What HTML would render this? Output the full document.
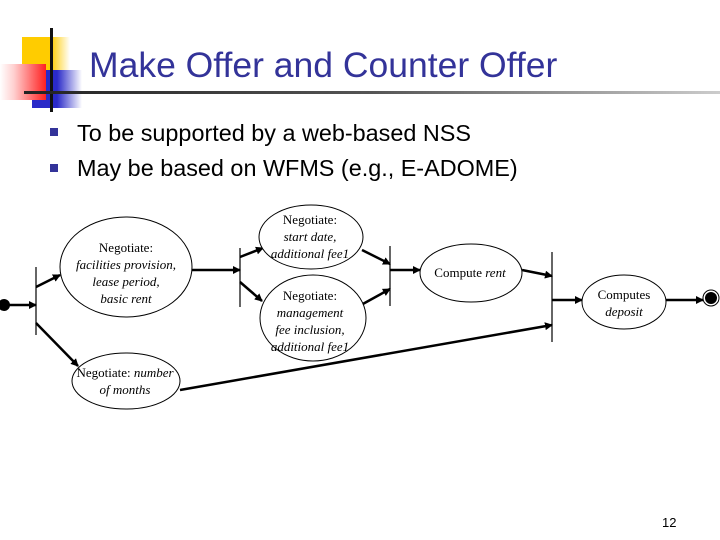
<!DOCTYPE html>
<html><head><style>
body{margin:0;width:720px;height:540px;background:#fff;overflow:hidden;position:relative;font-family:"Liberation Sans",sans-serif}
.a{position:absolute}
</style></head><body>
<div class="a" style="left:22px;top:37px;width:48px;height:36px;background:linear-gradient(90deg,#ffcc00 60%,#fff)"></div>
<div class="a" style="left:32px;top:70px;width:50px;height:38px;background:linear-gradient(90deg,#2a2ac8 50%,#fff)"></div>
<div class="a" style="left:0;top:64px;width:46px;height:36px;background:linear-gradient(270deg,#ff2020,#ffd0d0 70%,#fff)"></div>
<div class="a" style="left:50px;top:28px;width:3px;height:84px;background:#111"></div>
<div class="a" style="left:24px;top:91px;width:696px;height:3px;background:linear-gradient(90deg,#222,#555 50%,#ccc)"></div>
<div class="a" style="left:89px;top:45px;font-size:35.5px;color:#333399;white-space:nowrap">Make Offer and Counter Offer</div>
<div class="a" style="left:50px;top:128px;width:8px;height:8px;background:#333399"></div>
<div class="a" style="left:50px;top:164px;width:8px;height:8px;background:#333399"></div>
<div class="a" style="left:77px;top:116px;font-size:23.4px;line-height:35px;white-space:nowrap">To be supported by a web-based NSS<br>May be based on WFMS (e.g., E-ADOME)</div>
<svg class="a" style="left:0;top:0" width="720" height="540" font-family="Liberation Serif,serif" font-size="13">
<defs><marker id="m" markerWidth="8" markerHeight="8" refX="7" refY="4" orient="auto" markerUnits="userSpaceOnUse"><path d="M0,0L8,4L0,8z"/></marker></defs>
<g stroke="#000" stroke-width="2.5" fill="none" marker-end="url(#m)">
<line x1="8" y1="305" x2="36" y2="305"/>
<line x1="36" y1="287" x2="60" y2="275"/>
<line x1="36" y1="323" x2="78" y2="366"/>
<line x1="192" y1="270" x2="240" y2="270"/>
<line x1="240" y1="257" x2="263" y2="248"/>
<line x1="240" y1="282" x2="262" y2="301"/>
<line x1="362" y1="250" x2="390" y2="264"/>
<line x1="361" y1="305" x2="390" y2="289"/>
<line x1="390" y1="270" x2="420" y2="270"/>
<line x1="522" y1="270" x2="552" y2="276"/>
<line x1="180" y1="390" x2="552" y2="325"/>
<line x1="552" y1="300" x2="582" y2="300"/>
<line x1="666" y1="300" x2="703" y2="300"/>
</g>
<g stroke="#000" stroke-width="1.2">
<line x1="36" y1="267" x2="36" y2="335"/>
<line x1="240" y1="248" x2="240" y2="307"/>
<line x1="390" y1="246" x2="390" y2="306"/>
<line x1="552" y1="252" x2="552" y2="342"/>
</g>
<circle cx="4" cy="305" r="6"/>
<circle cx="711" cy="298" r="8" fill="#fff" stroke="#000"/><circle cx="711" cy="298" r="6"/>
<g fill="#fff" stroke="#000" stroke-width="1">
<ellipse cx="126" cy="267" rx="66" ry="50"/>
<ellipse cx="311" cy="237" rx="52" ry="32"/>
<ellipse cx="313" cy="318" rx="53" ry="43"/>
<ellipse cx="126" cy="381" rx="54" ry="28"/>
<ellipse cx="471" cy="273" rx="51" ry="29"/>
<ellipse cx="624" cy="302" rx="42" ry="27"/>
</g>
<g text-anchor="middle">
<text x="126" y="252">Negotiate:</text>
<text x="126" y="269" font-style="italic">facilities provision,</text>
<text x="126" y="286" font-style="italic">lease period,</text>
<text x="126" y="303" font-style="italic">basic rent</text>
<text x="310" y="224">Negotiate:</text>
<text x="310" y="241" font-style="italic">start date,</text>
<text x="310" y="258" font-style="italic">additional fee1</text>
<text x="310" y="300">Negotiate:</text>
<text x="310" y="317" font-style="italic">management</text>
<text x="310" y="334" font-style="italic">fee inclusion,</text>
<text x="310" y="351" font-style="italic">additional fee1</text>
<text x="125" y="377">Negotiate: <tspan font-style="italic">number</tspan></text>
<text x="125" y="394" font-style="italic">of months</text>
<text x="470" y="277">Compute <tspan font-style="italic">rent</tspan></text>
<text x="624" y="299">Computes</text>
<text x="624" y="316" font-style="italic">deposit</text>
</g>
</svg>
<div class="a" style="left:662px;top:515px;font-size:13px">12</div>
</body></html>
